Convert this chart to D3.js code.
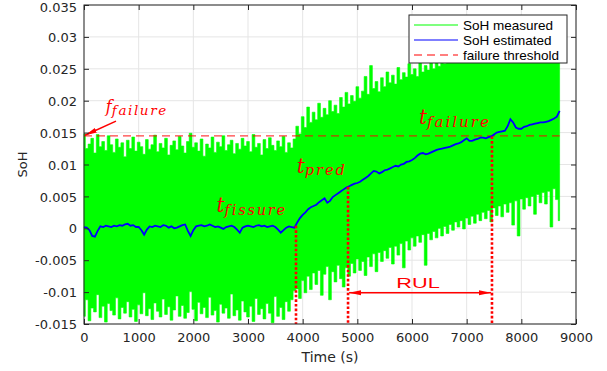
<!DOCTYPE html>
<html>
<head>
<meta charset="utf-8">
<script src="https://cdn.jsdelivr.net/npm/d3@7"></script>
<style>
  body { margin: 0; background: #fff; }
</style>
</head>
<body>
<svg id="chart" width="607" height="371"></svg>
<script>
// measured SoH: upper / lower envelope of the noisy signal, one value every 50 s
const measStep = 50;
const measHigh = [
  0.0148,0.0125,0.0132,0.0141,0.0118,0.0147,0.0128,0.0136,0.0122,0.0145,
  0.0131,0.0119,0.0140,0.0127,0.0134,0.0112,0.0138,0.0125,0.0143,0.0121,
  0.0135,0.0128,0.0116,0.0139,0.0124,0.0131,0.0146,0.0120,0.0133,0.0126,
  0.0141,0.0115,0.0130,0.0137,0.0123,0.0144,0.0129,0.0118,0.0136,0.0149,
  0.0127,0.0134,0.0121,0.0140,0.0113,0.0132,0.0126,0.0143,0.0119,0.0135,
  0.0128,0.0145,0.0122,0.0131,0.0138,0.0117,0.0133,0.0124,0.0141,0.0129,
  0.0136,0.0120,0.0147,0.0127,0.0133,0.0115,0.0139,0.0125,0.0142,0.0130,
  0.0122,0.0137,0.0128,0.0144,0.0119,0.0134,0.0126,0.0140,
  0.0160,0.0148,0.0175,0.0158,0.0190,0.0166,0.0182,0.0170,0.0196,0.0174,
  0.0188,0.0178,0.0200,0.0183,0.0193,0.0180,0.0205,0.0190,0.0213,0.0195,
  0.0208,0.0199,0.0222,0.0204,0.0215,0.0238,0.0210,0.0255,0.0219,0.0230,
  0.0214,0.0236,0.0222,0.0245,0.0228,0.0240,0.0226,0.0252,0.0233,0.0244,
  0.0237,0.0258,0.0241,0.0250,0.0238,0.0262,0.0245,0.0255,0.0248,0.0265,
  0.0250,0.0268,0.0254,0.0270,0.0258,0.0272,0.0260,0.0275,0.0262,0.0270,
  0.0278,0.0270,0.0284,0.0275,0.0288,0.0279,0.0290,0.0282,0.0292,0.0285,
  0.0295,0.0287,0.0298,0.0290,0.0300,0.0293,0.0302,0.0296,0.0305,0.0298,
  0.0307,0.0300,0.0310,0.0302,0.0312,0.0305,0.0314,0.0307,0.0315,0.0309,
  0.0316,0.0310,0.0318,0.0312,0.0320,0.0314,0.0318
];
const measLow = [
  -0.0138,-0.0112,-0.0145,-0.0125,-0.0131,-0.0104,-0.0140,-0.0122,-0.0147,-0.0118,
  -0.0129,-0.0136,-0.0109,-0.0142,-0.0124,-0.0133,-0.0115,-0.0139,-0.0127,-0.0146,
  -0.0120,-0.0134,-0.0101,-0.0137,-0.0126,-0.0143,-0.0117,-0.0130,-0.0139,-0.0111,
  -0.0135,-0.0123,-0.0144,-0.0128,-0.0106,-0.0138,-0.0121,-0.0141,-0.0132,-0.0099,
  -0.0127,-0.0145,-0.0116,-0.0134,-0.0124,-0.0140,-0.0108,-0.0136,-0.0129,-0.0147,
  -0.0119,-0.0133,-0.0125,-0.0141,-0.0103,-0.0137,-0.0128,-0.0144,-0.0114,-0.0131,
  -0.0139,-0.0122,-0.0146,-0.0110,-0.0135,-0.0126,-0.0142,-0.0118,-0.0133,-0.0148,
  -0.0107,-0.0138,-0.0124,-0.0143,-0.0115,-0.0130,-0.0112,-0.0098,
  -0.0095,-0.0110,-0.0082,-0.0101,-0.0075,-0.0096,-0.0070,-0.0088,-0.0066,-0.0105,
  -0.0072,-0.0060,-0.0112,-0.0068,-0.0084,-0.0058,-0.0079,-0.0092,-0.0062,-0.0075,
  -0.0055,-0.0070,-0.0048,-0.0066,-0.0052,-0.0074,-0.0045,-0.0060,-0.0040,-0.0068,
  -0.0038,-0.0052,-0.0035,-0.0047,-0.0030,-0.0056,-0.0028,-0.0042,-0.0024,-0.0062,
  -0.0020,-0.0034,-0.0015,-0.0028,-0.0012,-0.0022,-0.0010,-0.0058,-0.0008,-0.0018,
  -0.0005,-0.0015,0.0000,-0.0012,0.0003,-0.0008,0.0006,-0.0003,0.0010,0.0002,
  0.0012,-0.0001,0.0016,0.0006,0.0019,0.0008,0.0022,0.0012,0.0025,0.0015,
  0.0028,0.0010,0.0032,0.0020,0.0035,0.0018,0.0038,0.0025,0.0040,0.0005,
  0.0043,-0.0012,0.0046,0.0030,0.0048,0.0035,0.0050,0.0022,0.0053,0.0040,
  0.0056,0.0038,0.0058,0.0002,0.0062,0.0045,0.0012
];

// estimated SoH, one value every 50 s
const estStep = 50;
const estValues = [
  0.0002,0.0001,-0.0003,-0.0012,-0.0013,-0.0004,0.0003,0.0002,0.0004,0.0003,
  0.0002,0.0004,0.0003,0.0005,0.0004,0.0006,0.0007,0.0004,0.0005,0.0002,
  0.0002,-0.0003,-0.0010,-0.0002,0.0003,0.0002,0.0004,0.0003,0.0002,0.0005,
  0.0004,0.0001,0.0003,0.0000,0.0001,0.0003,0.0005,0.0006,-0.0004,-0.0012,
  -0.0003,0.0003,0.0004,0.0005,0.0003,0.0004,0.0006,0.0004,0.0002,0.0003,
  0.0001,-0.0001,0.0002,0.0003,0.0004,0.0002,-0.0002,-0.0007,0.0001,0.0003,
  0.0004,0.0003,0.0002,0.0004,0.0005,0.0003,0.0004,0.0002,0.0003,0.0004,
  0.0002,-0.0002,-0.0007,-0.0003,0.0001,0.0003,0.0002,0.0001,
  0.0009,0.0016,0.0021,0.0025,0.0030,0.0033,0.0035,0.0037,0.0041,0.0044,
  0.0047,0.0040,0.0043,0.0049,0.0052,0.0055,0.0058,0.0061,0.0064,0.0066,
  0.0068,0.0070,0.0071,0.0073,0.0076,0.0079,0.0082,0.0086,0.0090,0.0089,
  0.0086,0.0088,0.0091,0.0092,0.0094,0.0096,0.0098,0.0097,0.0100,0.0101,
  0.0104,0.0105,0.0107,0.0110,0.0114,0.0117,0.0118,0.0116,0.0117,0.0119,
  0.0121,0.0123,0.0124,0.0125,0.0126,0.0127,0.0128,0.0130,0.0132,0.0133,
  0.0135,0.0138,0.0141,0.0137,0.0137,0.0139,0.0140,0.0142,0.0142,0.0141,
  0.0143,0.0144,0.0147,0.0150,0.0151,0.0152,0.0153,0.0160,0.0171,0.0166,
  0.0158,0.0156,0.0156,0.0159,0.0160,0.0162,0.0163,0.0164,0.0165,0.0166,
  0.0166,0.0167,0.0168,0.0170,0.0172,0.0175,0.0184
];

const threshold = 0.0145;
const thresholdEnd = 8700;

// event times (s) and the SoH level where each dotted line starts
const eventTimes = [3878, 4830, 7463];
const eventLevels = [0.0004, 0.0065, 0.0144];
const rulLevel = -0.0101;

const xTicks = [0, 1000, 2000, 3000, 4000, 5000, 6000, 7000, 8000, 9000];
const xTickLabels = ['0', '1000', '2000', '3000', '4000', '5000', '6000', '7000', '8000', '9000'];
const yTicks = [-0.015, -0.01, -0.005, 0, 0.005, 0.01, 0.015, 0.02, 0.025, 0.03, 0.035];
const yTickLabels = ['-0.015', '-0.01', '-0.005', '0', '0.005', '0.01', '0.015', '0.02', '0.025', '0.03', '0.035'];

const legendLabels = ['SoH measured', 'SoH estimated', 'failure threshold'];

const svg = d3.select('#chart');
const margin = { top: 5, right: 31, bottom: 47, left: 84 };
const width = 607 - margin.left - margin.right;
const height = 371 - margin.top - margin.bottom;

const x = d3.scaleLinear().domain([0, 9000]).range([0, width]);
const y = d3.scaleLinear().domain([-0.015, 0.035]).range([height, 0]);

const axisColor = '#262626';
const red = '#ff0000';
const tickFont = '"DejaVu Sans", sans-serif';

const g = svg.append('g').attr('transform', `translate(${margin.left},${margin.top})`);

// grid
g.append('g').selectAll('line').data(xTicks).join('line')
  .attr('x1', d => x(d)).attr('x2', d => x(d))
  .attr('y1', 0).attr('y2', height)
  .attr('stroke', '#e5e5e5').attr('stroke-width', 1);
g.append('g').selectAll('line').data(yTicks).join('line')
  .attr('x1', 0).attr('x2', width)
  .attr('y1', d => y(d)).attr('y2', d => y(d))
  .attr('stroke', '#e5e5e5').attr('stroke-width', 1);

// measured signal band (drawn as steps, like packed vertical strokes)
const area = d3.area()
  .curve(d3.curveStep)
  .x((d, i) => x(i * measStep))
  .y0((d, i) => y(measLow[i]))
  .y1(d => y(d));
g.append('path')
  .datum(measHigh)
  .attr('d', area)
  .attr('fill', '#00ff00')
  .attr('stroke', '#00ff00')
  .attr('stroke-width', 0.6);

// failure threshold
g.append('line')
  .attr('x1', x(0)).attr('x2', x(thresholdEnd))
  .attr('y1', y(threshold)).attr('y2', y(threshold))
  .attr('stroke', red).attr('stroke-opacity', 0.75)
  .attr('stroke-width', 1.2)
  .attr('stroke-dasharray', '8,5');

// estimated SoH
const line = d3.line()
  .x((d, i) => x(i * estStep))
  .y(d => y(d));
g.append('path')
  .datum(estValues)
  .attr('d', line)
  .attr('fill', 'none')
  .attr('stroke', '#0000ff')
  .attr('stroke-width', 1.8);

// dotted event lines
g.append('g').selectAll('line').data(eventTimes).join('line')
  .attr('x1', d => x(d)).attr('x2', d => x(d))
  .attr('y1', (d, i) => y(eventLevels[i]))
  .attr('y2', y(-0.015))
  .attr('stroke', red)
  .attr('stroke-width', 2.6)
  .attr('stroke-dasharray', '2.6,2');

// arrow heads
const defs = svg.append('defs');
defs.append('marker')
  .attr('id', 'head')
  .attr('viewBox', '0 0 12 6')
  .attr('refX', 12).attr('refY', 3)
  .attr('markerWidth', 12).attr('markerHeight', 6)
  .attr('markerUnits', 'userSpaceOnUse')
  .attr('orient', 'auto-start-reverse')
  .append('path')
  .attr('d', 'M0,0.5 L12,3 L0,5.5 Z')
  .attr('fill', red);

// RUL arrow
g.append('line')
  .attr('x1', x(eventTimes[1]) + 1).attr('x2', x(eventTimes[2]) - 1)
  .attr('y1', y(rulLevel)).attr('y2', y(rulLevel))
  .attr('stroke', red).attr('stroke-width', 1.5)
  .attr('marker-start', 'url(#head)')
  .attr('marker-end', 'url(#head)');

const rulX = x((eventTimes[1] + eventTimes[2]) / 2) - 2;
g.append('text')
  .attr('transform', `translate(${rulX},${y(rulLevel) - 5}) scale(1.45,1)`)
  .attr('text-anchor', 'middle')
  .attr('font-family', '"Liberation Sans", Arial, sans-serif')
  .attr('font-size', 15)
  .attr('fill', red)
  .text('RUL');

// f_failure arrow pointing at the threshold on the y axis
g.append('line')
  .attr('x1', x(585)).attr('y1', y(0.0168))
  .attr('x2', x(0) + 1).attr('y2', y(threshold) - 0.5)
  .attr('stroke', red).attr('stroke-width', 1.6)
  .attr('marker-end', 'url(#head)');

// math-style labels: main symbol + subscript
function mathLabel(px, py, main, sub, mainSize, subSize, spacing, shift) {
  const t = g.append('text')
    .attr('x', px).attr('y', py)
    .attr('font-family', '"DejaVu Serif", serif')
    .attr('font-style', 'italic')
    .attr('fill', red);
  t.append('tspan').attr('font-size', mainSize).text(main);
  t.append('tspan').attr('font-size', subSize)
    .attr('dy', shift)
    .attr('letter-spacing', spacing)
    .text(sub);
}
mathLabel(x(400), y(0.0168) - 9, 'f', 'failure', 16, 13.5, 1.6, 3);
mathLabel(x(2425), y(0.0025), 't', 'fissure', 20, 14.5, 1.8, 3);
mathLabel(x(3890), y(0.0086), 't', 'pred', 20, 14.5, 2, 2);
mathLabel(x(6128), y(0.0164), 't', 'failure', 20, 15, 2, 3);

// axes with inward ticks (box on)
const xAxis = d3.axisBottom(x).tickValues(xTicks).tickSizeInner(-5).tickSizeOuter(0).tickPadding(9)
  .tickFormat((d, i) => xTickLabels[i]);
const yAxis = d3.axisLeft(y).tickValues(yTicks).tickSizeInner(-5).tickSizeOuter(0).tickPadding(7)
  .tickFormat((d, i) => yTickLabels[i]);

const gx = g.append('g').attr('transform', `translate(0,${height})`).call(xAxis);
const gy = g.append('g').call(yAxis);
g.append('g').call(d3.axisTop(x).tickValues(xTicks).tickSizeInner(-5).tickSizeOuter(0).tickFormat(''));
g.append('g').attr('transform', `translate(${width},0)`)
  .call(d3.axisRight(y).tickValues(yTicks).tickSizeInner(-5).tickSizeOuter(0).tickFormat(''));

g.selectAll('.domain').remove();
g.selectAll('.tick line').attr('stroke', axisColor);
[gx, gy].forEach(a => a.selectAll('text')
  .attr('font-family', tickFont)
  .attr('font-size', 13)
  .attr('fill', axisColor));
gy.selectAll('text').attr('dy', '0.36em');
// keep the top label inside the picture
gy.selectAll('text').filter(d => d === 0.035).attr('dy', '0.52em');

g.append('rect')
  .attr('x', 0).attr('y', 0)
  .attr('width', width).attr('height', height)
  .attr('fill', 'none')
  .attr('stroke', axisColor)
  .attr('stroke-width', 1);

// axis labels
svg.append('text')
  .attr('x', margin.left + width / 2).attr('y', 362)
  .attr('text-anchor', 'middle')
  .attr('font-family', tickFont).attr('font-size', 14)
  .attr('fill', axisColor)
  .text('Time (s)');
svg.append('text')
  .attr('transform', `translate(27,${margin.top + height / 2}) rotate(-90)`)
  .attr('text-anchor', 'middle')
  .attr('font-family', tickFont).attr('font-size', 13)
  .attr('fill', axisColor)
  .text('SoH');

// legend
const lg = svg.append('g').attr('transform', 'translate(409,15)');
lg.append('rect')
  .attr('width', 158).attr('height', 48)
  .attr('fill', '#fff')
  .attr('stroke', axisColor).attr('stroke-width', 1);
const legendStyles = [
  { color: '#00ff00', dash: null },
  { color: '#0000ff', dash: null },
  { color: red, dash: '8,5' }
];
legendLabels.forEach((label, i) => {
  const cy = 10 + i * 15;
  lg.append('line')
    .attr('x1', 5).attr('x2', 49)
    .attr('y1', cy).attr('y2', cy)
    .attr('stroke', legendStyles[i].color)
    .attr('stroke-width', 1.2)
    .attr('stroke-dasharray', legendStyles[i].dash);
  lg.append('text')
    .attr('x', 54).attr('y', cy + 5)
    .attr('font-family', '"Liberation Sans", Arial, sans-serif')
    .attr('font-size', 13.5)
    .attr('fill', '#000')
    .text(label);
});
</script>
</body>
</html>
